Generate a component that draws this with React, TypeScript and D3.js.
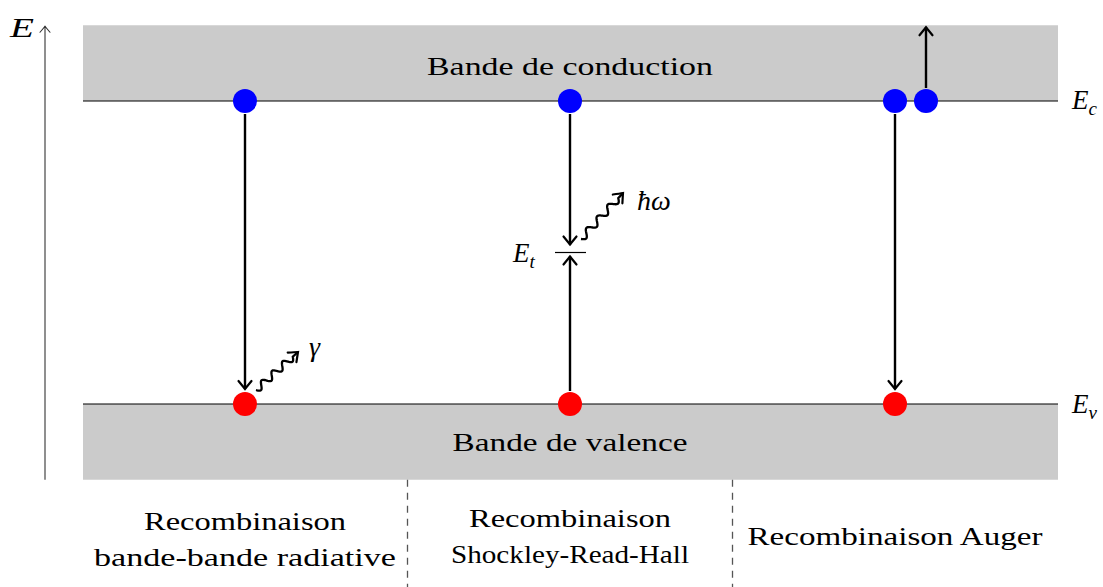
import React from "react";
import * as d3 from "d3";

const columns = ["radiative", "srh", "auger"];
const levelNames = ["Ev", "Et", "Ec"];
const levelValues = [0, 0.5, 1];
const bandLabels = ["Bande de conduction", "Bande de valence"];
const processLines = [
  ["Recombinaison", "bande-bande radiative"],
  ["Recombinaison", "Shockley-Read-Hall"],
  ["Recombinaison Auger"],
];
const photonLabels = ["γ", "ħω", ""];

const W = 1103;
const H = 587;
const x = d3.scalePoint<string>().domain(columns).range([245, 895]);
const y = d3.scaleLinear().domain([0, 1]).range([404, 101]);
const bandLeft = 83;
const bandRight = 1058;
const bandH = 0.25;
const FONT = "Liberation Serif, DejaVu Serif, serif";

function wavy(x0: number, y0: number, x1: number, y1: number, waves: number, amp: number) {
  const dx = x1 - x0, dy = y1 - y0;
  const L = Math.hypot(dx, dy);
  const ux = dx / L, uy = dy / L;
  const px = -uy, py = ux;
  const waveLen = L - 7;
  const pts: [number, number][] = [];
  const n = 80;
  for (let i = 0; i <= n; i++) {
    const t = (i / n) * waveLen;
    const o = amp * Math.sin((t / waveLen) * waves * 2 * Math.PI);
    pts.push([x0 + ux * t + px * o, y0 + uy * t + py * o]);
  }
  pts.push([x1, y1]);
  return d3.line()(pts) as string;
}

const TextFit = ({ x: tx, y: ty, w, size = 26, children, anchor = "middle" }: any) => (
  <text
    x={tx}
    y={ty}
    style={{ fontFamily: FONT }}
    fontSize={size}
    textAnchor={anchor}
    textLength={w}
    lengthAdjust="spacingAndGlyphs"
    fill="#000"
  >
    {children}
  </text>
);

const mathStyle = { fontFamily: FONT, fontStyle: "italic" as const };

export default function App() {
  const Ec = y(levelValues[2]);
  const Ev = y(levelValues[0]);
  const Et = y(levelValues[1]);
  const cTop = y(1 + bandH);
  const vBot = y(-bandH);
  const cx = columns.map((c) => x(c) as number);
  const r = 12;
  const arrow = "url(#arr)";
  const dividers = [(cx[0] + cx[1]) / 2, (cx[1] + cx[2]) / 2];
  const lineWidths = [
    [202, 302],
    [202, 238],
    [295],
  ];
  const lineYs = [
    [530, 566],
    [527, 563],
    [545],
  ];
  return (
    <svg width={W} height={H} style={{ position: "absolute", left: 0, top: 0 }}>
      <defs>
        <marker id="arr" markerUnits="userSpaceOnUse" markerWidth="20" markerHeight="20" refX="0" refY="0" viewBox="-12 -10 14 20" orient="auto">
          <path d="M -8 -6.5 Q -2.5 -2 0 0 Q -2.5 2 -8 6.5" fill="none" stroke="#000" strokeWidth={2.2} strokeLinecap="round" />
        </marker>
        <marker id="arrThin" markerUnits="userSpaceOnUse" markerWidth="16" markerHeight="16" refX="0" refY="0" viewBox="-10 -8 12 16" orient="auto">
          <path d="M -6 -5 Q -2 -1.5 0 0 Q -2 1.5 -6 5" fill="none" stroke="#333" strokeWidth={1.1} strokeLinecap="round" />
        </marker>
      </defs>
      <rect x={0} y={0} width={W} height={H} fill="#fff" />
      {/* bands */}
      <rect x={bandLeft} y={cTop} width={bandRight - bandLeft} height={Ec - cTop} fill="#cbcbcb" />
      <rect x={bandLeft} y={Ev} width={bandRight - bandLeft} height={vBot - Ev} fill="#cbcbcb" />
      <line x1={bandLeft} x2={bandRight} y1={Ec} y2={Ec} stroke="#000" strokeWidth={1.2} />
      <line x1={bandLeft} x2={bandRight} y1={Ev} y2={Ev} stroke="#000" strokeWidth={1.2} />
      <TextFit x={570} y={75} w={286}>{bandLabels[0]}</TextFit>
      <TextFit x={570} y={451} w={235}>{bandLabels[1]}</TextFit>

      {/* energy axis */}
      <line x1={45} x2={45} y1={vBot} y2={cTop + 1} stroke="#333" strokeWidth={1.1} markerEnd="url(#arrThin)" />
      <text x={10} y={37} style={mathStyle} fontSize={27} textLength={24} lengthAdjust="spacingAndGlyphs">E</text>

      {/* level labels */}
      <text x={1072} y={109} style={mathStyle} fontSize={27}>
        E<tspan fontSize={19} dy={6}>c</tspan>
      </text>
      <text x={1072} y={413} style={mathStyle} fontSize={27}>
        E<tspan fontSize={19} dy={6}>v</tspan>
      </text>

      {/* radiative */}
      <line x1={cx[0]} x2={cx[0]} y1={Ec + r + 1} y2={Ev - 15} stroke="#000" strokeWidth={2.4} markerEnd={arrow} />
      <path d={wavy(256, 390, 298, 352, 3.5, 3.5)} fill="none" stroke="#000" strokeWidth={2.3} markerEnd={arrow} />
      <text x={309} y={356} style={mathStyle} fontSize={28}>{photonLabels[0]}</text>

      {/* SRH */}
      <line x1={cx[1]} x2={cx[1]} y1={Ec + r + 1} y2={Et - 8} stroke="#000" strokeWidth={2.4} markerEnd={arrow} />
      <line x1={cx[1]} x2={cx[1]} y1={Ev - r - 1} y2={Et + 4} stroke="#000" strokeWidth={2.4} markerEnd={arrow} />
      <line x1={cx[1] - 15} x2={cx[1] + 16} y1={Et} y2={Et} stroke="#000" strokeWidth={1.2} />
      <path d={wavy(581, 239, 623, 193, 3.5, 3.5)} fill="none" stroke="#000" strokeWidth={2.3} markerEnd={arrow} />
      <text x={637} y={210} style={mathStyle} fontSize={28}>{photonLabels[1]}</text>
      <text x={513} y={262} style={mathStyle} fontSize={27}>
        E<tspan fontSize={19} dy={6}>t</tspan>
      </text>

      {/* Auger */}
      <line x1={cx[2]} x2={cx[2]} y1={Ec + r + 1} y2={Ev - 15} stroke="#000" strokeWidth={2.4} markerEnd={arrow} />
      <line x1={cx[2] + 31} x2={cx[2] + 31} y1={Ec - r - 1} y2={cTop + 2} stroke="#000" strokeWidth={2.4} markerEnd={arrow} />

      {/* carriers */}
      {cx.map((c, i) => (
        <circle key={"e" + i} cx={c} cy={Ec} r={r} fill="#0000ff" />
      ))}
      <circle cx={cx[2] + 31} cy={Ec} r={r} fill="#0000ff" />
      {cx.map((c, i) => (
        <circle key={"h" + i} cx={c} cy={Ev} r={r} fill="#ff0000" />
      ))}

      {/* dividers */}
      {dividers.map((d, i) => (
        <line key={"d" + i} x1={d} x2={d} y1={vBot} y2={H} stroke="#555" strokeWidth={1.3} strokeDasharray="7,6" />
      ))}

      {/* process labels */}
      {processLines.map((lines, i) =>
        lines.map((t, j) => (
          <TextFit key={i + "-" + j} x={cx[i]} y={lineYs[i][j]} w={lineWidths[i][j]}>{t}</TextFit>
        ))
      )}
    </svg>
  );
}
